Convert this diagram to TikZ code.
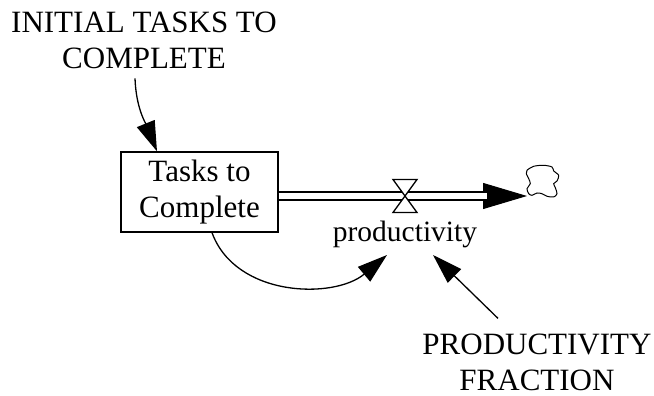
\documentclass[tikz,border=0pt]{standalone}
\usepackage{fontspec}
\setmainfont{Liberation Serif}
\usetikzlibrary{arrows.meta,positioning}
\tikzset{
  >={Triangle[length=30pt, width=19pt]},
  lbl/.style ={align=center, inner sep=2pt, font=\fontsize{31}{36}\selectfont},
  stk/.style ={draw, line width=1.3pt, minimum width=157pt, minimum height=80pt, lbl},
  lnk/.style ={->, line width=1.3pt},
  pipe/.style={draw, line width=2pt, double distance=6pt}
}
\begin{document}
\begin{tikzpicture}[x=1pt,y=1pt]
\useasboundingbox (0,0) rectangle (654,396);
\node[lbl] (init) at (144,355.5) {INITIAL TASKS TO\\COMPLETE};
\node[stk] (tasks) at (199.5,204) {Tasks to\\Complete};
\coordinate (valve) at (405,200);
\coordinate (sink) at (527,200);
\coordinate (cloud) at (542,215);
\node[lbl, anchor=base, font=\fontsize{29.5}{36}\selectfont] (prod) at (405,154) {productivity};
\node[lbl, inner sep=0pt] (frac) at (537,34) {PRODUCTIVITY\\FRACTION};

% flow
\draw[line width=1pt, -{Triangle[length=44pt, width=26pt]}] (valve) -- (sink);
\draw[pipe, shorten >=40pt] (tasks.east |- valve) -- (sink);
\draw[line width=1.3pt, fill=white] (valve) -- ++(-12,16.5) -- ++(24,0) -- cycle
  (valve) -- ++(-12,-16.5) -- ++(24,0) -- cycle;
\draw[line width=1pt, shift={(cloud)}] plot[smooth cycle, tension=0.5] coordinates {
  (-15,10.7) (-8.3,14.7) (1.7,15.7) (10,14) (11.7,10) (16.7,5.7) (15,0)
  (11.7,-2.7) (13.3,-6.7) (15,-12.7) (11.7,-16) (5,-15.3) (0,-12.7)
  (-5,-12) (-10,-14.3) (-13.3,-12.7) (-15,-7.7) (-11.7,-2.7) (-13.3,2.3) (-15.7,7.3)};

% links
\draw[lnk] ([shift={(-9pt,-7.3pt)}]init.south) to[out=-88, in=112] ([xshift=-42.5pt]tasks.north);
\draw[lnk] ([xshift=12.5pt]tasks.south) to[out=-70, in=220] ([shift={(-18pt,-13pt)}]prod.base);
\draw[lnk] ([shift={(-39pt,15pt)}]frac.north) -- ([shift={(28pt,-13pt)}]prod.base);
\end{tikzpicture}
\end{document}
